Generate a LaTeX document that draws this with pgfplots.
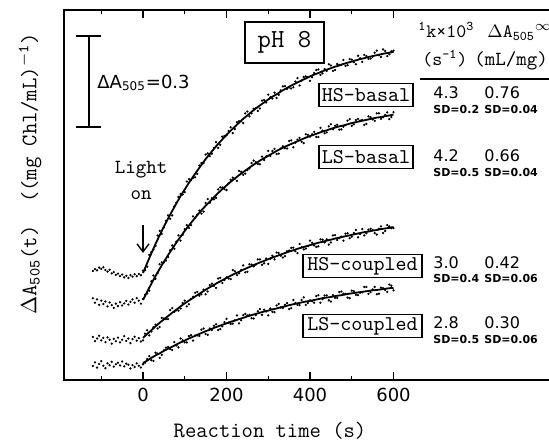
\documentclass[border=0pt]{standalone}
\usepackage{pgfplots}
\pgfplotsset{compat=1.18}
\usetikzlibrary{arrows.meta}
\usepackage{fontspec}
\newfontfamily\dv{DejaVu Sans}
\begin{document}
\begin{tikzpicture}
\begin{axis}[
  x=0.20875pt, y=151.5pt,
  xmin=-189.2, xmax=1100, ymin=0, ymax=1.221,
  axis line style={line width=0.8pt},
  xtick={0,200,400,600}, minor xtick={-100,100,300,500},
  xticklabels={0,200,400,600},
  ytick=\empty,
  tick align=inside,
  major tick length=4pt, minor tick length=1.8pt,
  every tick/.style={black, line width=0.7pt},
  xticklabel style={font=\dv\fontsize{9}{9}\selectfont, yshift=-0.5pt},
  clip=false,
  scale only axis,
]
% ---------- HS-basal ----------
\addplot[only marks, mark=*, mark size=0.35pt, black] coordinates {
(-120,0.360)(-115,0.366)(-110,0.362)(-105,0.371)(-100,0.367)(-95,0.372)(-90,0.363)(-85,0.358)(-80,0.364)(-75,0.352)(-70,0.356)(-65,0.347)(-60,0.351)(-55,0.343)(-50,0.348)(-45,0.339)(-40,0.344)(-35,0.337)(-30,0.346)(-25,0.341)(-20,0.349)(-15,0.343)(-10,0.350)(-5,0.346)
(0,0.361)(5,0.363)(10,0.374)(15,0.413)(20,0.422)(25,0.431)(30,0.443)(35,0.477)(40,0.492)(45,0.482)(50,0.503)(55,0.525)(60,0.543)(65,0.532)(70,0.543)(75,0.573)(80,0.585)(85,0.604)(90,0.614)(95,0.612)(100,0.620)(105,0.655)(110,0.663)(115,0.660)(120,0.667)(125,0.669)(130,0.680)(135,0.708)(140,0.716)(145,0.716)(150,0.744)(155,0.748)(160,0.739)(165,0.747)(170,0.766)(175,0.785)(180,0.766)(185,0.776)(190,0.803)(195,0.805)(200,0.807)(205,0.822)(210,0.834)(215,0.815)(220,0.828)(225,0.851)(230,0.854)(235,0.854)(240,0.848)(245,0.880)(250,0.886)(255,0.870)(260,0.880)(265,0.895)(270,0.897)(275,0.888)(280,0.896)(285,0.922)(290,0.924)(295,0.916)(300,0.942)(305,0.933)(310,0.929)(315,0.948)(320,0.931)(325,0.941)(330,0.956)(335,0.969)(340,0.970)(345,0.961)(350,0.965)(355,0.962)(360,0.966)(365,0.985)(370,0.996)(375,0.972)(380,0.988)(385,1.000)(390,1.002)(395,1.000)(400,0.987)(405,0.999)(410,1.013)(415,1.023)(420,1.025)(425,1.007)(430,1.012)(435,1.026)(440,1.020)(445,1.042)(450,1.038)(455,1.020)(460,1.023)(465,1.043)(470,1.040)(475,1.040)(480,1.056)(485,1.037)(490,1.039)(495,1.059)(500,1.057)(505,1.049)(510,1.042)(515,1.070)(520,1.062)(525,1.050)(530,1.073)(535,1.069)(540,1.060)(545,1.061)(550,1.067)(555,1.080)(560,1.087)(565,1.072)(570,1.066)(575,1.091)(580,1.086)(585,1.069)(590,1.075)(595,1.085)(600,1.087)};
\addplot[black, line width=0.9pt, no marks] coordinates {
(0,0.353)(10,0.386)(20,0.418)(30,0.449)(40,0.478)(50,0.506)(60,0.533)(70,0.558)(80,0.583)(90,0.607)(100,0.629)(110,0.651)(120,0.671)(130,0.691)(140,0.710)(150,0.729)(160,0.746)(170,0.763)(180,0.779)(190,0.794)(200,0.809)(210,0.823)(220,0.836)(230,0.849)(240,0.862)(250,0.873)(260,0.885)(270,0.896)(280,0.906)(290,0.916)(300,0.926)(310,0.935)(320,0.943)(330,0.952)(340,0.960)(350,0.968)(360,0.975)(370,0.982)(380,0.989)(390,0.995)(400,1.002)(410,1.008)(420,1.013)(430,1.019)(440,1.024)(450,1.029)(460,1.034)(470,1.038)(480,1.043)(490,1.047)(500,1.051)(510,1.055)(520,1.059)(530,1.062)(540,1.066)(550,1.069)(560,1.072)(570,1.075)(580,1.078)(590,1.080)(600,1.083)};
% ---------- LS-basal ----------
\addplot[only marks, mark=*, mark size=0.35pt, black] coordinates {
(-120,0.270)(-115,0.255)(-110,0.266)(-105,0.248)(-100,0.262)(-95,0.251)(-90,0.259)(-85,0.243)(-80,0.256)(-75,0.247)(-70,0.238)(-65,0.252)(-60,0.244)(-55,0.257)(-50,0.246)(-45,0.253)(-40,0.261)(-35,0.249)(-30,0.258)(-25,0.266)(-20,0.255)(-15,0.270)(-10,0.262)(-5,0.252)
(0,0.268)(5,0.281)(10,0.286)(15,0.295)(20,0.326)(25,0.345)(30,0.334)(35,0.353)(40,0.382)(45,0.388)(50,0.388)(55,0.394)(60,0.406)(65,0.428)(70,0.444)(75,0.433)(80,0.457)(85,0.477)(90,0.460)(95,0.479)(100,0.498)(105,0.511)(110,0.502)(115,0.511)(120,0.540)(125,0.535)(130,0.546)(135,0.559)(140,0.549)(145,0.556)(150,0.584)(155,0.597)(160,0.585)(165,0.600)(170,0.596)(175,0.601)(180,0.629)(185,0.636)(190,0.635)(195,0.630)(200,0.627)(205,0.649)(210,0.661)(215,0.668)(220,0.664)(225,0.657)(230,0.690)(235,0.687)(240,0.677)(245,0.681)(250,0.693)(255,0.698)(260,0.716)(265,0.724)(270,0.719)(275,0.713)(280,0.712)(285,0.737)(290,0.726)(295,0.738)(300,0.756)(305,0.739)(310,0.756)(315,0.763)(320,0.746)(325,0.747)(330,0.764)(335,0.771)(340,0.765)(345,0.764)(350,0.789)(355,0.791)(360,0.768)(365,0.783)(370,0.793)(375,0.799)(380,0.786)(385,0.782)(390,0.811)(395,0.809)(400,0.803)(405,0.811)(410,0.819)(415,0.802)(420,0.802)(425,0.832)(430,0.823)(435,0.814)(440,0.817)(445,0.837)(450,0.844)(455,0.827)(460,0.839)(465,0.842)(470,0.826)(475,0.827)(480,0.836)(485,0.841)(490,0.856)(495,0.861)(500,0.839)(505,0.844)(510,0.858)(515,0.862)(520,0.856)(525,0.858)(530,0.842)(535,0.845)(540,0.870)(545,0.867)(550,0.860)(555,0.855)(560,0.880)(565,0.880)(570,0.862)(575,0.867)(580,0.875)(585,0.883)(590,0.861)(595,0.868)(600,0.884)};
\addplot[black, line width=0.9pt, no marks] coordinates {
(0,0.264)(10,0.291)(20,0.318)(30,0.343)(40,0.367)(50,0.390)(60,0.412)(70,0.433)(80,0.454)(90,0.473)(100,0.492)(110,0.510)(120,0.527)(130,0.544)(140,0.560)(150,0.575)(160,0.589)(170,0.603)(180,0.617)(190,0.630)(200,0.642)(210,0.654)(220,0.665)(230,0.676)(240,0.686)(250,0.696)(260,0.706)(270,0.715)(280,0.724)(290,0.732)(300,0.740)(310,0.748)(320,0.756)(330,0.763)(340,0.770)(350,0.776)(360,0.782)(370,0.788)(380,0.794)(390,0.800)(400,0.805)(410,0.810)(420,0.815)(430,0.820)(440,0.824)(450,0.829)(460,0.833)(470,0.837)(480,0.840)(490,0.844)(500,0.848)(510,0.851)(520,0.854)(530,0.857)(540,0.860)(550,0.863)(560,0.866)(570,0.868)(580,0.871)(590,0.873)(600,0.876)};
% ---------- HS-coupled ----------
\addplot[only marks, mark=*, mark size=0.35pt, black] coordinates {
(-120,0.142)(-115,0.128)(-110,0.137)(-105,0.146)(-100,0.131)(-95,0.139)(-90,0.125)(-85,0.141)(-80,0.133)(-75,0.120)(-70,0.136)(-65,0.128)(-60,0.140)(-55,0.124)(-50,0.133)(-45,0.145)(-40,0.129)(-35,0.137)(-30,0.122)(-25,0.135)(-20,0.143)(-15,0.130)(-10,0.138)(-5,0.127)
(0,0.131)(5,0.153)(10,0.164)(15,0.147)(20,0.160)(25,0.174)(30,0.183)(35,0.170)(40,0.175)(45,0.205)(50,0.203)(55,0.201)(60,0.201)(65,0.231)(70,0.237)(75,0.225)(80,0.230)(85,0.229)(90,0.236)(95,0.254)(100,0.262)(105,0.243)(110,0.250)(115,0.268)(120,0.275)(125,0.288)(130,0.291)(135,0.278)(140,0.283)(145,0.298)(150,0.283)(155,0.292)(160,0.313)(165,0.318)(170,0.311)(175,0.304)(180,0.335)(185,0.337)(190,0.320)(195,0.330)(200,0.339)(205,0.335)(210,0.333)(215,0.363)(220,0.359)(225,0.346)(230,0.352)(235,0.363)(240,0.378)(245,0.355)(250,0.357)(255,0.382)(260,0.381)(265,0.375)(270,0.381)(275,0.398)(280,0.398)(285,0.380)(290,0.385)(295,0.401)(300,0.383)(305,0.400)(310,0.410)(315,0.398)(320,0.421)(325,0.419)(330,0.410)(335,0.404)(340,0.409)(345,0.425)(350,0.427)(355,0.436)(360,0.437)(365,0.425)(370,0.419)(375,0.449)(380,0.438)(385,0.431)(390,0.434)(395,0.442)(400,0.460)(405,0.453)(410,0.444)(415,0.439)(420,0.441)(425,0.464)(430,0.463)(435,0.454)(440,0.464)(445,0.447)(450,0.454)(455,0.477)(460,0.478)(465,0.462)(470,0.468)(475,0.473)(480,0.460)(485,0.483)(490,0.484)(495,0.468)(500,0.473)(505,0.485)(510,0.495)(515,0.471)(520,0.482)(525,0.498)(530,0.477)(535,0.484)(540,0.496)(545,0.499)(550,0.495)(555,0.485)(560,0.480)(565,0.499)(570,0.507)(575,0.485)(580,0.492)(585,0.511)(590,0.507)(595,0.501)(600,0.501)};
\addplot[black, line width=0.9pt, no marks] coordinates {
(0,0.139)(10,0.152)(20,0.164)(30,0.177)(40,0.189)(50,0.200)(60,0.211)(70,0.222)(80,0.232)(90,0.243)(100,0.253)(110,0.262)(120,0.271)(130,0.280)(140,0.289)(150,0.298)(160,0.306)(170,0.314)(180,0.322)(190,0.329)(200,0.337)(210,0.344)(220,0.351)(230,0.357)(240,0.364)(250,0.370)(260,0.376)(270,0.382)(280,0.388)(290,0.393)(300,0.399)(310,0.404)(320,0.409)(330,0.414)(340,0.419)(350,0.424)(360,0.428)(370,0.433)(380,0.437)(390,0.441)(400,0.445)(410,0.449)(420,0.453)(430,0.456)(440,0.460)(450,0.463)(460,0.467)(470,0.470)(480,0.473)(490,0.476)(500,0.479)(510,0.482)(520,0.485)(530,0.488)(540,0.490)(550,0.493)(560,0.495)(570,0.498)(580,0.500)(590,0.502)(600,0.505)};
% ---------- LS-coupled ----------
\addplot[only marks, mark=*, mark size=0.35pt, black] coordinates {
(-120,0.046)(-115,0.058)(-110,0.041)(-105,0.053)(-100,0.062)(-95,0.047)(-90,0.039)(-85,0.055)(-80,0.049)(-75,0.060)(-70,0.044)(-65,0.052)(-60,0.057)(-55,0.048)(-50,0.061)(-45,0.045)(-40,0.054)(-35,0.050)(-30,0.038)(-25,0.049)(-20,0.043)(-15,0.055)(-10,0.047)(-5,0.041)
(0,0.052)(5,0.057)(10,0.069)(15,0.079)(20,0.065)(25,0.063)(30,0.090)(35,0.087)(40,0.073)(45,0.083)(50,0.098)(55,0.107)(60,0.109)(65,0.102)(70,0.099)(75,0.125)(80,0.114)(85,0.108)(90,0.137)(95,0.131)(100,0.124)(105,0.124)(110,0.145)(115,0.148)(120,0.130)(125,0.147)(130,0.147)(135,0.145)(140,0.166)(145,0.170)(150,0.152)(155,0.149)(160,0.170)(165,0.165)(170,0.179)(175,0.184)(180,0.165)(185,0.168)(190,0.177)(195,0.191)(200,0.202)(205,0.189)(210,0.185)(215,0.186)(220,0.197)(225,0.213)(230,0.187)(235,0.197)(240,0.214)(245,0.218)(250,0.213)(255,0.215)(260,0.204)(265,0.203)(270,0.214)(275,0.227)(280,0.234)(285,0.215)(290,0.232)(295,0.226)(300,0.213)(305,0.236)(310,0.225)(315,0.224)(320,0.246)(325,0.251)(330,0.239)(335,0.238)(340,0.248)(345,0.254)(350,0.234)(355,0.237)(360,0.264)(365,0.254)(370,0.248)(375,0.247)(380,0.264)(385,0.273)(390,0.248)(395,0.254)(400,0.263)(405,0.260)(410,0.255)(415,0.277)(420,0.280)(425,0.255)(430,0.267)(435,0.279)(440,0.279)(445,0.263)(450,0.259)(455,0.280)(460,0.271)(465,0.271)(470,0.290)(475,0.292)(480,0.285)(485,0.284)(490,0.272)(495,0.270)(500,0.295)(505,0.293)(510,0.281)(515,0.280)(520,0.288)(525,0.289)(530,0.307)(535,0.307)(540,0.284)(545,0.290)(550,0.299)(555,0.307)(560,0.283)(565,0.285)(570,0.305)(575,0.303)(580,0.297)(585,0.291)(590,0.315)(595,0.311)(600,0.296)};
\addplot[black, line width=0.9pt, no marks] coordinates {
(0,0.056)(10,0.064)(20,0.073)(30,0.081)(40,0.088)(50,0.096)(60,0.103)(70,0.110)(80,0.117)(90,0.124)(100,0.130)(110,0.137)(120,0.143)(130,0.149)(140,0.155)(150,0.161)(160,0.166)(170,0.172)(180,0.177)(190,0.182)(200,0.187)(210,0.192)(220,0.196)(230,0.201)(240,0.205)(250,0.210)(260,0.214)(270,0.218)(280,0.222)(290,0.226)(300,0.229)(310,0.233)(320,0.236)(330,0.240)(340,0.243)(350,0.247)(360,0.250)(370,0.253)(380,0.256)(390,0.259)(400,0.261)(410,0.264)(420,0.267)(430,0.270)(440,0.272)(450,0.274)(460,0.277)(470,0.279)(480,0.281)(490,0.284)(500,0.286)(510,0.288)(520,0.290)(530,0.292)(540,0.294)(550,0.296)(560,0.297)(570,0.299)(580,0.301)(590,0.303)(600,0.304)};
\end{axis}
% ---------- annotations (pixel frame of the reference) ----------
\begin{scope}[shift={(-32pt,190pt)}, x=0.5pt, y=-0.5pt]
\draw[line width=0.6pt] (89,36)--(89,127) (76,36)--(101,36) (76,127)--(101,127);
\node[anchor=west, inner sep=0pt, font=\dv\fontsize{9}{9}\selectfont] at (97,83) {ΔA\textsubscript{505}=0.3};
\node[draw, line width=0.6pt, minimum width=39.5pt, minimum height=20.5pt, inner sep=0pt, font=\ttfamily\fontsize{13}{13}\selectfont] at (284.5,42.5) {pH 8};
\node[anchor=base, inner sep=0pt, font=\ttfamily\fontsize{10}{10}\selectfont] at (141,174) {Light};
\node[anchor=base, inner sep=0pt, font=\ttfamily\fontsize{10}{10}\selectfont] at (141,200) {on};
\draw[line width=0.7pt, -{Straight Barb[length=4pt,width=6pt]}] (143,225)--(143,253);
\tikzset{lab/.style={draw, line width=0.6pt, inner sep=0pt, minimum height=11.5pt, font=\ttfamily\fontsize{10.5}{10.5}\selectfont}}
\node[lab, minimum width=47pt] at (366,95) {HS\textendash basal};
\node[lab, minimum width=47pt] at (366,157) {LS\textendash basal};
\node[lab, minimum width=59.5pt] at (362.5,266) {HS\textendash coupled};
\node[lab, minimum width=59.5pt] at (362.5,326) {LS\textendash coupled};
% table header
\tikzset{hd/.style={anchor=base west, inner sep=0pt, font=\ttfamily\fontsize{9.5}{9.5}\selectfont}}
\node[hd] at (418,38) {\textsuperscript{1}k×10\textsuperscript{3}};
\node[hd] at (422,66) {(s\textsuperscript{-1})};
\node[hd] at (487,38) {$\Delta$A\textsubscript{505}\textsuperscript{$\infty$}};
\node[hd, font=\ttfamily\fontsize{10}{10}\selectfont] at (474,66) {(mL/mg)};
\draw[line width=0.6pt] (420,79)--(560,79);
% table values
\tikzset{num/.style={anchor=base west, inner sep=0pt, font=\dv\fontsize{8}{8}\selectfont},
         sd/.style={anchor=base west, inner sep=0pt, font=\dv\bfseries\fontsize{5.5}{5.5}\selectfont}}
\node[num] at (433,99) {4.3};  \node[num] at (484,99) {0.76};
\node[sd] at (433,114) {SD=0.2}; \node[sd] at (484,114) {SD=0.04};
\node[num] at (433,162) {4.2};  \node[num] at (484,162) {0.66};
\node[sd] at (433,177) {SD=0.5}; \node[sd] at (484,177) {SD=0.04};
\node[num] at (433,269) {3.0};  \node[num] at (484,269) {0.42};
\node[sd] at (433,283) {SD=0.4}; \node[sd] at (484,283) {SD=0.06};
\node[num] at (433,329) {2.8};  \node[num] at (484,329) {0.30};
\node[sd] at (433,344) {SD=0.5}; \node[sd] at (484,344) {SD=0.06};
% axis titles
\node[rotate=90, font=\ttfamily\fontsize{11}{11}\selectfont] at (30,174) {$\Delta$A\textsubscript{505}(t)\ \ ((mg Chl/mL)\textsuperscript{$-$1})};
\node[font=\ttfamily\fontsize{11}{11}\selectfont] at (270,431) {Reaction time (s)};
\end{scope}
\pgfresetboundingbox
\path[use as bounding box] (-32pt,-31pt) rectangle (242.5pt,190pt);
\end{tikzpicture}
\end{document}
